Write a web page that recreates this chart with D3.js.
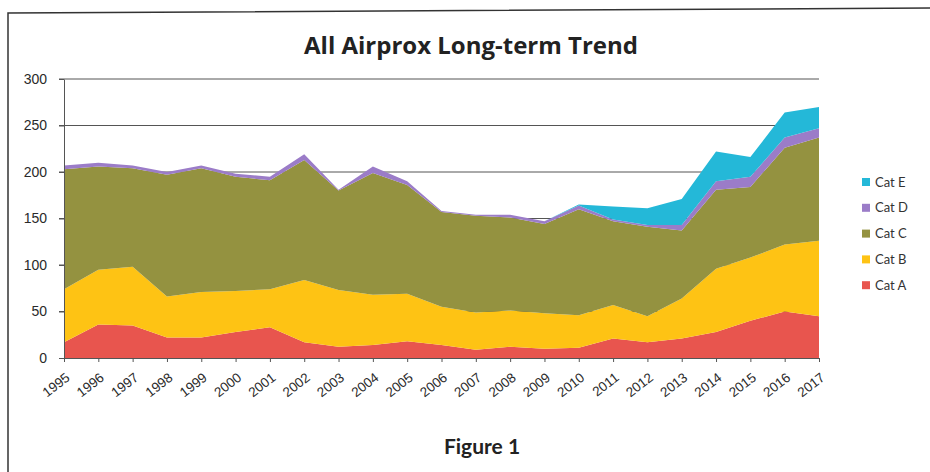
<!DOCTYPE html>
<html>
<head>
<meta charset="utf-8">
<title>All Airprox Long-term Trend</title>
<script src="https://cdn.jsdelivr.net/npm/d3@7"></script>
<style>
  body { margin: 0; background: #fff; }
  svg { display: block; font-family: Lato, "Open Sans", sans-serif; }
  .tick text { fill: #2a2a2a; }
</style>
</head>
<body>
<svg id="chart" width="930" height="472"></svg>
<script>
// data
var years = [1995, 1996, 1997, 1998, 1999, 2000, 2001, 2002, 2003, 2004, 2005, 2006,
             2007, 2008, 2009, 2010, 2011, 2012, 2013, 2014, 2015, 2016, 2017];
var catA = [17, 36, 35, 22, 22, 28, 33, 17, 12, 14, 18, 14, 9, 12, 10, 11, 21, 17, 21, 28, 40, 50, 45];
var catB = [57, 59, 63, 44, 49, 44, 41, 67, 61, 54, 51, 41, 40, 39, 38, 35, 36, 28, 43, 68, 68, 72, 81];
var catC = [129, 111, 106, 131, 133, 123, 117, 129, 107, 131, 117, 102, 104, 100, 96, 114, 90, 96, 73, 85, 76, 104, 111];
var catD = [4, 4, 3, 3, 3, 3, 4, 6, 1, 7, 4, 1, 1, 3, 3, 4, 2, 2, 6, 9, 11, 11, 10];
var catE = [0, 0, 0, 0, 0, 0, 0, 0, 0, 0, 0, 0, 0, 0, 0, 1, 14, 18, 28, 32, 21, 27, 23];
var seriesNames = ['Cat A', 'Cat B', 'Cat C', 'Cat D', 'Cat E'];
var colors = ['#e8554e', '#fec314', '#949240', '#9b7cc8', '#24b8d8'];
var yTicks = [0, 50, 100, 150, 200, 250, 300];

var svg = d3.select('#chart');
var plotLeft = 64, plotRight = 819, plotTop = 79, plotBottom = 358;

var rows = years.map(function(y, i) {
  return { year: y, 'Cat A': catA[i], 'Cat B': catB[i], 'Cat C': catC[i], 'Cat D': catD[i], 'Cat E': catE[i] };
});

var x = d3.scaleLinear().domain([years[0], years[years.length - 1]]).range([plotLeft, plotRight]);
var y = d3.scaleLinear().domain([0, 300]).range([plotBottom, plotTop]);
var color = d3.scaleOrdinal().domain(seriesNames).range(colors);

// frame round the whole figure
svg.append('path')
  .attr('d', 'M8,480 L8,13 L940,8')
  .attr('fill', 'none')
  .attr('stroke', '#333')
  .attr('stroke-width', 1.5);

// title
svg.append('text')
  .attr('x', 471).attr('y', 54)
  .attr('text-anchor', 'middle')
  .style('font-family', '"Open Sans", sans-serif')
  .style('font-size', '24px')
  .style('font-weight', 'bold')
  .style('fill', '#222')
  .text('All Airprox Long-term Trend');

// gridlines
svg.append('g')
  .selectAll('line')
  .data(yTicks.slice(1))
  .enter().append('line')
  .attr('x1', plotLeft - 5).attr('x2', plotRight)
  .attr('y1', function(d) { return y(d); })
  .attr('y2', function(d) { return y(d); })
  .attr('stroke', '#555')
  .attr('stroke-width', 1);

var stack = d3.stack().keys(seriesNames);
var area = d3.area()
  .x(function(d) { return x(d.data.year); })
  .y0(function(d) { return y(d[0]); })
  .y1(function(d) { return y(d[1]); });

svg.append('g')
  .selectAll('path')
  .data(stack(rows))
  .enter().append('path')
  .attr('fill', function(d) { return color(d.key); })
  .attr('d', area);

// y axis
var yAxis = svg.append('g')
  .attr('transform', 'translate(' + plotLeft + ',0)')
  .call(d3.axisLeft(y).tickValues(yTicks).tickSize(5).tickPadding(12).tickSizeOuter(0));
yAxis.selectAll('text').style('font-size', '14px');
yAxis.selectAll('line, path').attr('stroke', '#555');

// x axis
var xAxis = svg.append('g')
  .attr('transform', 'translate(0,' + plotBottom + ')')
  .call(d3.axisBottom(x).tickValues(years).tickFormat(d3.format('d')).tickSize(4).tickSizeOuter(0));
xAxis.selectAll('line, path').attr('stroke', '#555');
xAxis.selectAll('text')
  .style('font-size', '13.5px')
  .attr('text-anchor', 'end')
  .attr('dy', '0.35em')
  .attr('transform', 'translate(-1,12) rotate(-38)');

// legend, top entry is Cat E
var legend = svg.append('g')
  .selectAll('g')
  .data(seriesNames.slice().reverse())
  .enter().append('g')
  .attr('transform', function(d, i) { return 'translate(862,' + (182 + i * 25.8) + ')'; });
legend.append('rect')
  .attr('x', 0).attr('y', -4)
  .attr('width', 8).attr('height', 8)
  .attr('fill', function(d) { return color(d); });
legend.append('text')
  .attr('x', 13).attr('y', 0)
  .attr('dy', '0.35em')
  .style('font-size', '13px')
  .style('fill', '#333')
  .text(function(d) { return d; });

// caption
svg.append('text')
  .attr('x', 482).attr('y', 454)
  .attr('text-anchor', 'middle')
  .style('font-size', '21px')
  .style('font-weight', 'bold')
  .style('fill', '#222')
  .text('Figure 1');
</script>
</body>
</html>
